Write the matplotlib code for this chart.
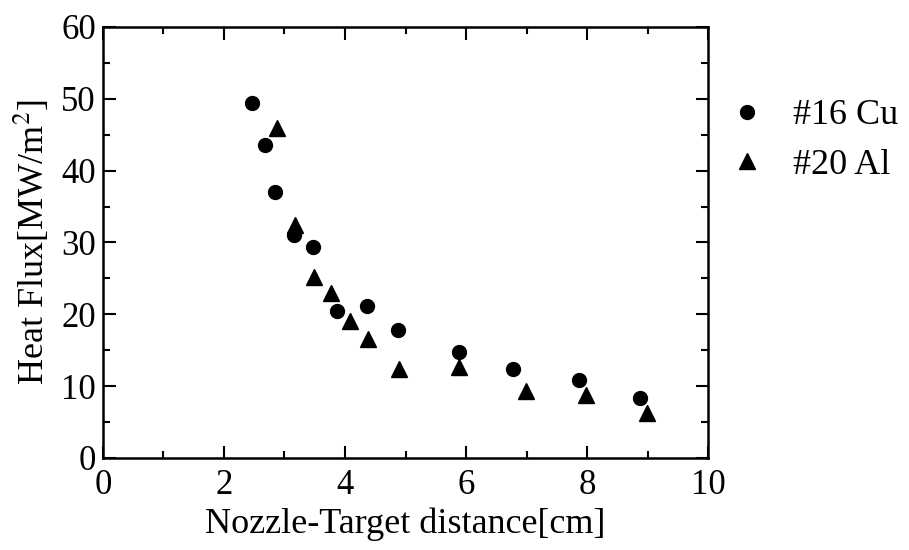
import matplotlib
matplotlib.use("Agg")
import matplotlib.pyplot as plt
from matplotlib.ticker import MultipleLocator

cu_x = [2.46, 2.67, 2.85, 3.16, 3.47, 3.86, 4.36, 4.87, 5.89, 6.78, 7.86, 8.87]
cu_y = [49.4, 43.6, 37.0, 31.1, 29.4, 20.5, 21.1, 17.8, 14.8, 12.4, 10.8, 8.4]
al_x = [2.88, 3.18, 3.48, 3.77, 4.09, 4.38, 4.89, 5.89, 6.99, 7.99, 8.99]
al_y = [46.0, 32.4, 25.2, 23.0, 19.1, 16.6, 12.4, 12.7, 9.3, 8.7, 6.3]

plt.rcParams['font.family'] = ['Liberation Serif', 'DejaVu Serif']
plt.rcParams['mathtext.fontset'] = 'stix'

fig = plt.figure(figsize=(9.09, 5.5), dpi=100)
ax = fig.add_axes([0.1133, 0.1673, 0.6656, 0.7837])

ax.plot(cu_x, cu_y, 'o', color='black', markersize=10, label='#16 Cu')
ax.plot(al_x, al_y, '^', color='black', markersize=11, label='#20 Al')

ax.set_xlim(0, 10)
ax.set_ylim(0, 60)
ax.xaxis.set_major_locator(MultipleLocator(2))
ax.xaxis.set_minor_locator(MultipleLocator(1))
ax.yaxis.set_major_locator(MultipleLocator(10))
ax.yaxis.set_minor_locator(MultipleLocator(5))
ax.tick_params(which='both', direction='in', top=True, right=True, width=1.5, labelsize=25)
ax.tick_params(axis='x', which='both', pad=8)
ax.tick_params(axis='y', which='both', pad=5)
ax.tick_params(which='major', length=9)
ax.tick_params(which='minor', length=5)
for s in ax.spines.values():
    s.set_linewidth(1.8)

ax.set_xlabel('Nozzle-Target distance[cm]', fontsize=26, labelpad=4)
ax.set_ylabel('Heat Flux[MW/m$^2$]', fontsize=26, labelpad=7)

ax.legend(loc='upper left', bbox_to_anchor=(1.011, 0.866), frameon=False, fontsize=26,
          handletextpad=0.78, labelspacing=0.45, handlelength=1.0, borderaxespad=0.0)

fig.savefig('out.png', dpi=100)
